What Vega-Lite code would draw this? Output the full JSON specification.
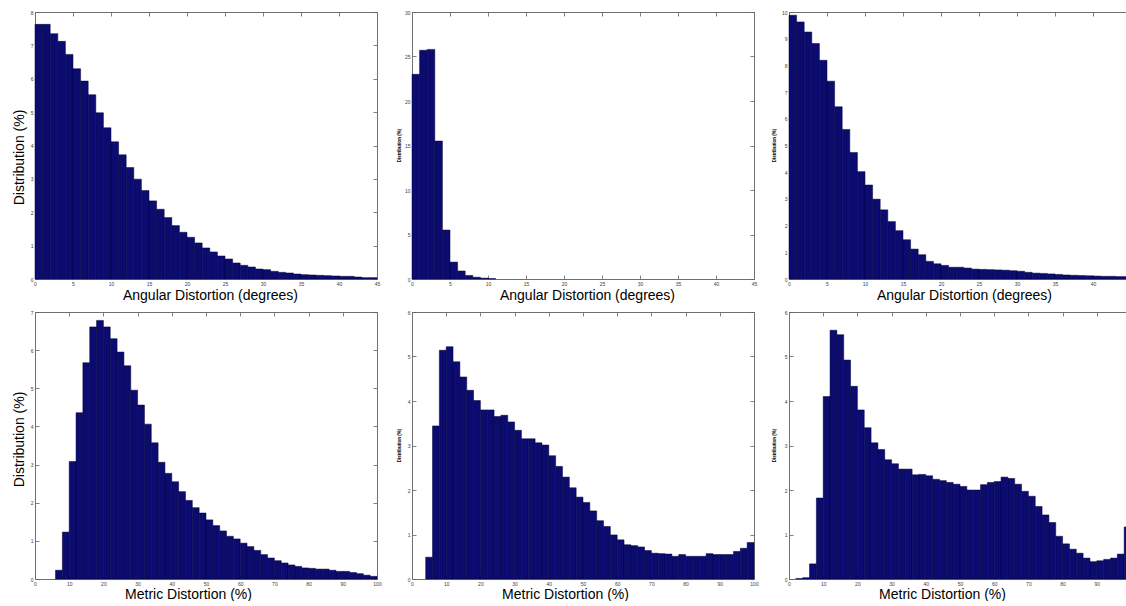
{
  "$schema": "https://vega.github.io/schema/vega-lite/v6.json",
  "padding": {"left": 12, "top": 10, "right": 0, "bottom": 0},
  "background": "white",
  "data": {"values": [
    {"p":"a","x0":0,"x1":1,"v":7.63},{"p":"a","x0":1,"x1":2,"v":7.63},{"p":"a","x0":2,"x1":3,"v":7.35},{"p":"a","x0":3,"x1":4,"v":7.12},{"p":"a","x0":4,"x1":5,"v":6.73},{"p":"a","x0":5,"x1":6,"v":6.30},{"p":"a","x0":6,"x1":7,"v":5.93},{"p":"a","x0":7,"x1":8,"v":5.52},{"p":"a","x0":8,"x1":9,"v":4.98},{"p":"a","x0":9,"x1":10,"v":4.53},{"p":"a","x0":10,"x1":11,"v":4.11},{"p":"a","x0":11,"x1":12,"v":3.72},{"p":"a","x0":12,"x1":13,"v":3.34},{"p":"a","x0":13,"x1":14,"v":2.99},{"p":"a","x0":14,"x1":15,"v":2.65},{"p":"a","x0":15,"x1":16,"v":2.34},{"p":"a","x0":16,"x1":17,"v":2.09},{"p":"a","x0":17,"x1":18,"v":1.84},{"p":"a","x0":18,"x1":19,"v":1.60},{"p":"a","x0":19,"x1":20,"v":1.40},{"p":"a","x0":20,"x1":21,"v":1.25},{"p":"a","x0":21,"x1":22,"v":1.08},{"p":"a","x0":22,"x1":23,"v":0.93},{"p":"a","x0":23,"x1":24,"v":0.81},{"p":"a","x0":24,"x1":25,"v":0.69},{"p":"a","x0":25,"x1":26,"v":0.60},{"p":"a","x0":26,"x1":27,"v":0.48},{"p":"a","x0":27,"x1":28,"v":0.41},{"p":"a","x0":28,"x1":29,"v":0.36},{"p":"a","x0":29,"x1":30,"v":0.30},{"p":"a","x0":30,"x1":31,"v":0.28},{"p":"a","x0":31,"x1":32,"v":0.23},{"p":"a","x0":32,"x1":33,"v":0.20},{"p":"a","x0":33,"x1":34,"v":0.18},{"p":"a","x0":34,"x1":35,"v":0.15},{"p":"a","x0":35,"x1":36,"v":0.13},{"p":"a","x0":36,"x1":37,"v":0.12},{"p":"a","x0":37,"x1":38,"v":0.11},{"p":"a","x0":38,"x1":39,"v":0.10},{"p":"a","x0":39,"x1":40,"v":0.09},{"p":"a","x0":40,"x1":41,"v":0.08},{"p":"a","x0":41,"x1":42,"v":0.08},{"p":"a","x0":42,"x1":43,"v":0.06},{"p":"a","x0":43,"x1":44,"v":0.04},{"p":"a","x0":44,"x1":45,"v":0.04},
    {"p":"b","x0":0,"x1":1,"v":23.0},{"p":"b","x0":1,"x1":2,"v":25.7},{"p":"b","x0":2,"x1":3,"v":25.8},{"p":"b","x0":3,"x1":4,"v":15.5},{"p":"b","x0":4,"x1":5,"v":5.5},{"p":"b","x0":5,"x1":6,"v":1.9},{"p":"b","x0":6,"x1":7,"v":0.9},{"p":"b","x0":7,"x1":8,"v":0.4},{"p":"b","x0":8,"x1":9,"v":0.2},{"p":"b","x0":9,"x1":10,"v":0.1},{"p":"b","x0":10,"x1":11,"v":0.05},
    {"p":"c","x0":0,"x1":1,"v":9.88},{"p":"c","x0":1,"x1":2,"v":9.63},{"p":"c","x0":2,"x1":3,"v":9.25},{"p":"c","x0":3,"x1":4,"v":8.82},{"p":"c","x0":4,"x1":5,"v":8.19},{"p":"c","x0":5,"x1":6,"v":7.41},{"p":"c","x0":6,"x1":7,"v":6.45},{"p":"c","x0":7,"x1":8,"v":5.60},{"p":"c","x0":8,"x1":9,"v":4.74},{"p":"c","x0":9,"x1":10,"v":4.02},{"p":"c","x0":10,"x1":11,"v":3.52},{"p":"c","x0":11,"x1":12,"v":2.99},{"p":"c","x0":12,"x1":13,"v":2.59},{"p":"c","x0":13,"x1":14,"v":2.15},{"p":"c","x0":14,"x1":15,"v":1.81},{"p":"c","x0":15,"x1":16,"v":1.47},{"p":"c","x0":16,"x1":17,"v":1.12},{"p":"c","x0":17,"x1":18,"v":0.91},{"p":"c","x0":18,"x1":19,"v":0.66},{"p":"c","x0":19,"x1":20,"v":0.57},{"p":"c","x0":20,"x1":21,"v":0.51},{"p":"c","x0":21,"x1":22,"v":0.44},{"p":"c","x0":22,"x1":23,"v":0.44},{"p":"c","x0":23,"x1":24,"v":0.41},{"p":"c","x0":24,"x1":25,"v":0.37},{"p":"c","x0":25,"x1":26,"v":0.36},{"p":"c","x0":26,"x1":27,"v":0.35},{"p":"c","x0":27,"x1":28,"v":0.34},{"p":"c","x0":28,"x1":29,"v":0.33},{"p":"c","x0":29,"x1":30,"v":0.31},{"p":"c","x0":30,"x1":31,"v":0.29},{"p":"c","x0":31,"x1":32,"v":0.25},{"p":"c","x0":32,"x1":33,"v":0.22},{"p":"c","x0":33,"x1":34,"v":0.21},{"p":"c","x0":34,"x1":35,"v":0.19},{"p":"c","x0":35,"x1":36,"v":0.17},{"p":"c","x0":36,"x1":37,"v":0.15},{"p":"c","x0":37,"x1":38,"v":0.14},{"p":"c","x0":38,"x1":39,"v":0.13},{"p":"c","x0":39,"x1":40,"v":0.12},{"p":"c","x0":40,"x1":41,"v":0.11},{"p":"c","x0":41,"x1":42,"v":0.10},{"p":"c","x0":42,"x1":43,"v":0.10},{"p":"c","x0":43,"x1":44,"v":0.09},{"p":"c","x0":44,"x1":45,"v":0.09},
    {"p":"d","x0":6,"x1":8,"v":0.23},{"p":"d","x0":8,"x1":10,"v":1.23},{"p":"d","x0":10,"x1":12,"v":3.08},{"p":"d","x0":12,"x1":14,"v":4.36},{"p":"d","x0":14,"x1":16,"v":5.67},{"p":"d","x0":16,"x1":18,"v":6.61},{"p":"d","x0":18,"x1":20,"v":6.78},{"p":"d","x0":20,"x1":22,"v":6.61},{"p":"d","x0":22,"x1":24,"v":6.30},{"p":"d","x0":24,"x1":26,"v":5.95},{"p":"d","x0":26,"x1":28,"v":5.59},{"p":"d","x0":28,"x1":30,"v":4.95},{"p":"d","x0":30,"x1":32,"v":4.56},{"p":"d","x0":32,"x1":34,"v":4.06},{"p":"d","x0":34,"x1":36,"v":3.57},{"p":"d","x0":36,"x1":38,"v":3.06},{"p":"d","x0":38,"x1":40,"v":2.77},{"p":"d","x0":40,"x1":42,"v":2.55},{"p":"d","x0":42,"x1":44,"v":2.29},{"p":"d","x0":44,"x1":46,"v":2.06},{"p":"d","x0":46,"x1":48,"v":1.87},{"p":"d","x0":48,"x1":50,"v":1.73},{"p":"d","x0":50,"x1":52,"v":1.55},{"p":"d","x0":52,"x1":54,"v":1.40},{"p":"d","x0":54,"x1":56,"v":1.26},{"p":"d","x0":56,"x1":58,"v":1.12},{"p":"d","x0":58,"x1":60,"v":1.05},{"p":"d","x0":60,"x1":62,"v":0.94},{"p":"d","x0":62,"x1":64,"v":0.85},{"p":"d","x0":64,"x1":66,"v":0.75},{"p":"d","x0":66,"x1":68,"v":0.64},{"p":"d","x0":68,"x1":70,"v":0.55},{"p":"d","x0":70,"x1":72,"v":0.48},{"p":"d","x0":72,"x1":74,"v":0.42},{"p":"d","x0":74,"x1":76,"v":0.37},{"p":"d","x0":76,"x1":78,"v":0.33},{"p":"d","x0":78,"x1":80,"v":0.29},{"p":"d","x0":80,"x1":82,"v":0.28},{"p":"d","x0":82,"x1":84,"v":0.26},{"p":"d","x0":84,"x1":86,"v":0.26},{"p":"d","x0":86,"x1":88,"v":0.23},{"p":"d","x0":88,"x1":90,"v":0.20},{"p":"d","x0":90,"x1":92,"v":0.20},{"p":"d","x0":92,"x1":94,"v":0.17},{"p":"d","x0":94,"x1":96,"v":0.14},{"p":"d","x0":96,"x1":98,"v":0.10},{"p":"d","x0":98,"x1":100,"v":0.07},
    {"p":"e","x0":4,"x1":6,"v":0.49},{"p":"e","x0":6,"x1":8,"v":3.44},{"p":"e","x0":8,"x1":10,"v":5.14},{"p":"e","x0":10,"x1":12,"v":5.22},{"p":"e","x0":12,"x1":14,"v":4.88},{"p":"e","x0":14,"x1":16,"v":4.54},{"p":"e","x0":16,"x1":18,"v":4.24},{"p":"e","x0":18,"x1":20,"v":4.01},{"p":"e","x0":20,"x1":22,"v":3.80},{"p":"e","x0":22,"x1":24,"v":3.80},{"p":"e","x0":24,"x1":26,"v":3.65},{"p":"e","x0":26,"x1":28,"v":3.68},{"p":"e","x0":28,"x1":30,"v":3.53},{"p":"e","x0":30,"x1":32,"v":3.34},{"p":"e","x0":32,"x1":34,"v":3.15},{"p":"e","x0":34,"x1":36,"v":3.15},{"p":"e","x0":36,"x1":38,"v":3.06},{"p":"e","x0":38,"x1":40,"v":3.01},{"p":"e","x0":40,"x1":42,"v":2.77},{"p":"e","x0":42,"x1":44,"v":2.53},{"p":"e","x0":44,"x1":46,"v":2.29},{"p":"e","x0":46,"x1":48,"v":2.05},{"p":"e","x0":48,"x1":50,"v":1.84},{"p":"e","x0":50,"x1":52,"v":1.72},{"p":"e","x0":52,"x1":54,"v":1.53},{"p":"e","x0":54,"x1":56,"v":1.31},{"p":"e","x0":56,"x1":58,"v":1.18},{"p":"e","x0":58,"x1":60,"v":0.99},{"p":"e","x0":60,"x1":62,"v":0.88},{"p":"e","x0":62,"x1":64,"v":0.77},{"p":"e","x0":64,"x1":66,"v":0.75},{"p":"e","x0":66,"x1":68,"v":0.72},{"p":"e","x0":68,"x1":70,"v":0.64},{"p":"e","x0":70,"x1":72,"v":0.58},{"p":"e","x0":72,"x1":74,"v":0.57},{"p":"e","x0":74,"x1":76,"v":0.56},{"p":"e","x0":76,"x1":78,"v":0.51},{"p":"e","x0":78,"x1":80,"v":0.55},{"p":"e","x0":80,"x1":82,"v":0.51},{"p":"e","x0":82,"x1":84,"v":0.51},{"p":"e","x0":84,"x1":86,"v":0.51},{"p":"e","x0":86,"x1":88,"v":0.57},{"p":"e","x0":88,"x1":90,"v":0.55},{"p":"e","x0":90,"x1":92,"v":0.55},{"p":"e","x0":92,"x1":94,"v":0.55},{"p":"e","x0":94,"x1":96,"v":0.62},{"p":"e","x0":96,"x1":98,"v":0.69},{"p":"e","x0":98,"x1":100,"v":0.82},
    {"p":"f","x0":2,"x1":4,"v":0.01},{"p":"f","x0":4,"x1":6,"v":0.03},{"p":"f","x0":6,"x1":8,"v":0.34},{"p":"f","x0":8,"x1":10,"v":1.82},{"p":"f","x0":10,"x1":12,"v":4.10},{"p":"f","x0":12,"x1":14,"v":5.59},{"p":"f","x0":14,"x1":16,"v":5.49},{"p":"f","x0":16,"x1":18,"v":4.92},{"p":"f","x0":18,"x1":20,"v":4.33},{"p":"f","x0":20,"x1":22,"v":3.80},{"p":"f","x0":22,"x1":24,"v":3.40},{"p":"f","x0":24,"x1":26,"v":3.06},{"p":"f","x0":26,"x1":28,"v":2.91},{"p":"f","x0":28,"x1":30,"v":2.68},{"p":"f","x0":30,"x1":32,"v":2.59},{"p":"f","x0":32,"x1":34,"v":2.47},{"p":"f","x0":34,"x1":36,"v":2.47},{"p":"f","x0":36,"x1":38,"v":2.34},{"p":"f","x0":38,"x1":40,"v":2.35},{"p":"f","x0":40,"x1":42,"v":2.32},{"p":"f","x0":42,"x1":44,"v":2.24},{"p":"f","x0":44,"x1":46,"v":2.21},{"p":"f","x0":46,"x1":48,"v":2.17},{"p":"f","x0":48,"x1":50,"v":2.13},{"p":"f","x0":50,"x1":52,"v":2.08},{"p":"f","x0":52,"x1":54,"v":2.00},{"p":"f","x0":54,"x1":56,"v":2.00},{"p":"f","x0":56,"x1":58,"v":2.12},{"p":"f","x0":58,"x1":60,"v":2.17},{"p":"f","x0":60,"x1":62,"v":2.19},{"p":"f","x0":62,"x1":64,"v":2.29},{"p":"f","x0":64,"x1":66,"v":2.26},{"p":"f","x0":66,"x1":68,"v":2.13},{"p":"f","x0":68,"x1":70,"v":1.97},{"p":"f","x0":70,"x1":72,"v":1.86},{"p":"f","x0":72,"x1":74,"v":1.63},{"p":"f","x0":74,"x1":76,"v":1.44},{"p":"f","x0":76,"x1":78,"v":1.27},{"p":"f","x0":78,"x1":80,"v":0.96},{"p":"f","x0":80,"x1":82,"v":0.79},{"p":"f","x0":82,"x1":84,"v":0.67},{"p":"f","x0":84,"x1":86,"v":0.58},{"p":"f","x0":86,"x1":88,"v":0.47},{"p":"f","x0":88,"x1":90,"v":0.39},{"p":"f","x0":90,"x1":92,"v":0.41},{"p":"f","x0":92,"x1":94,"v":0.44},{"p":"f","x0":94,"x1":96,"v":0.47},{"p":"f","x0":96,"x1":98,"v":0.56},{"p":"f","x0":98,"x1":100,"v":1.17}
  ]},
  "columns": 3,
  "spacing": {"row": 33, "column": 35},
  "bounds": "flush",
  "concat": [
    {
      "width": 342, "height": 267,
      "transform": [{"filter": "datum.p == 'a'"}],
      "layer": [
        {"mark": {"type": "bar", "fill": "#0b0b70", "stroke": "#000038", "strokeWidth": 0.5},
         "encoding": {
           "x": {"field": "x0", "type": "quantitative", "scale": {"domain": [0, 45], "nice": false},
                 "axis": {"orient": "bottom", "values": [0,5,10,15,20,25,30,35,40,45], "title": "Angular Distortion (degrees)", "titleX": 175, "titleY": 20}},
           "x2": {"field": "x1"},
           "y": {"field": "v", "type": "quantitative", "scale": {"domain": [0, 8], "nice": false},
                 "axis": {"orient": "left", "values": [0,1,2,3,4,5,6,7,8], "title": "Distribution (%)", "titleFontSize": 14, "titleX": -16, "titleY": 145, "titleBaseline": "middle"}},
           "y2": {"datum": 0}
         }},
        {"mark": {"type": "bar", "opacity": 0},
         "encoding": {
           "x": {"field": "x0", "type": "quantitative", "scale": {"domain": [0, 45], "nice": false},
                 "axis": {"orient": "top", "values": [0,5,10,15,20,25,30,35,40,45], "labels": false, "title": null}},
           "x2": {"field": "x1"},
           "y": {"field": "v", "type": "quantitative", "scale": {"domain": [0, 8], "nice": false},
                 "axis": {"orient": "right", "values": [0,1,2,3,4,5,6,7,8], "labels": false, "title": null}},
           "y2": {"datum": 0}
         }}
      ],
      "resolve": {"axis": {"x": "independent", "y": "independent"}}
    },
    {
      "width": 342, "height": 267,
      "transform": [{"filter": "datum.p == 'b'"}],
      "layer": [
        {"mark": {"type": "bar", "fill": "#0b0b70", "stroke": "#000038", "strokeWidth": 0.5},
         "encoding": {
           "x": {"field": "x0", "type": "quantitative", "scale": {"domain": [0, 45], "nice": false},
                 "axis": {"orient": "bottom", "values": [0,5,10,15,20,25,30,35,40,45], "title": "Angular Distortion (degrees)", "titleX": 175, "titleY": 20}},
           "x2": {"field": "x1"},
           "y": {"field": "v", "type": "quantitative", "scale": {"domain": [0, 30], "nice": false},
                 "axis": {"orient": "left", "values": [0,5,10,15,20,25,30], "title": "Distribution (%)", "titleFontSize": 4.5, "titleFontWeight": "bold", "titleX": -13, "titleY": 133, "titleBaseline": "middle"}},
           "y2": {"datum": 0}
         }},
        {"mark": {"type": "bar", "opacity": 0},
         "encoding": {
           "x": {"field": "x0", "type": "quantitative", "scale": {"domain": [0, 45], "nice": false},
                 "axis": {"orient": "top", "values": [0,5,10,15,20,25,30,35,40,45], "labels": false, "title": null}},
           "x2": {"field": "x1"},
           "y": {"field": "v", "type": "quantitative", "scale": {"domain": [0, 30], "nice": false},
                 "axis": {"orient": "right", "values": [0,5,10,15,20,25,30], "labels": false, "title": null}},
           "y2": {"datum": 0}
         }}
      ],
      "resolve": {"axis": {"x": "independent", "y": "independent"}}
    },
    {
      "width": 342, "height": 267,
      "transform": [{"filter": "datum.p == 'c'"}],
      "layer": [
        {"mark": {"type": "bar", "fill": "#0b0b70", "stroke": "#000038", "strokeWidth": 0.5},
         "encoding": {
           "x": {"field": "x0", "type": "quantitative", "scale": {"domain": [0, 45], "nice": false},
                 "axis": {"orient": "bottom", "values": [0,5,10,15,20,25,30,35,40,45], "title": "Angular Distortion (degrees)", "titleX": 175, "titleY": 20}},
           "x2": {"field": "x1"},
           "y": {"field": "v", "type": "quantitative", "scale": {"domain": [0, 10], "nice": false},
                 "axis": {"orient": "left", "values": [0,1,2,3,4,5,6,7,8,9,10], "title": "Distribution (%)", "titleFontSize": 4.5, "titleFontWeight": "bold", "titleX": -15, "titleY": 133, "titleBaseline": "middle"}},
           "y2": {"datum": 0}
         }},
        {"mark": {"type": "bar", "opacity": 0},
         "encoding": {
           "x": {"field": "x0", "type": "quantitative", "scale": {"domain": [0, 45], "nice": false},
                 "axis": {"orient": "top", "values": [0,5,10,15,20,25,30,35,40,45], "labels": false, "title": null}},
           "x2": {"field": "x1"},
           "y": {"field": "v", "type": "quantitative", "scale": {"domain": [0, 10], "nice": false},
                 "axis": {"orient": "right", "values": [0,1,2,3,4,5,6,7,8,9,10], "labels": false, "title": null}},
           "y2": {"datum": 0}
         }}
      ],
      "resolve": {"axis": {"x": "independent", "y": "independent"}}
    },
    {
      "width": 342, "height": 267,
      "transform": [{"filter": "datum.p == 'd'"}],
      "layer": [
        {"mark": {"type": "bar", "fill": "#0b0b70", "stroke": "#000038", "strokeWidth": 0.5},
         "encoding": {
           "x": {"field": "x0", "type": "quantitative", "scale": {"domain": [0, 100], "nice": false},
                 "axis": {"orient": "bottom", "values": [0,10,20,30,40,50,60,70,80,90,100], "title": "Metric Distortion (%)", "titleX": 153, "titleY": 19}},
           "x2": {"field": "x1"},
           "y": {"field": "v", "type": "quantitative", "scale": {"domain": [0, 7], "nice": false},
                 "axis": {"orient": "left", "values": [0,1,2,3,4,5,6,7], "title": "Distribution (%)", "titleFontSize": 14, "titleX": -16, "titleY": 127, "titleBaseline": "middle"}},
           "y2": {"datum": 0}
         }},
        {"mark": {"type": "bar", "opacity": 0},
         "encoding": {
           "x": {"field": "x0", "type": "quantitative", "scale": {"domain": [0, 100], "nice": false},
                 "axis": {"orient": "top", "values": [0,10,20,30,40,50,60,70,80,90,100], "labels": false, "title": null}},
           "x2": {"field": "x1"},
           "y": {"field": "v", "type": "quantitative", "scale": {"domain": [0, 7], "nice": false},
                 "axis": {"orient": "right", "values": [0,1,2,3,4,5,6,7], "labels": false, "title": null}},
           "y2": {"datum": 0}
         }}
      ],
      "resolve": {"axis": {"x": "independent", "y": "independent"}}
    },
    {
      "width": 342, "height": 267,
      "transform": [{"filter": "datum.p == 'e'"}],
      "layer": [
        {"mark": {"type": "bar", "fill": "#0b0b70", "stroke": "#000038", "strokeWidth": 0.5},
         "encoding": {
           "x": {"field": "x0", "type": "quantitative", "scale": {"domain": [0, 100], "nice": false},
                 "axis": {"orient": "bottom", "values": [0,10,20,30,40,50,60,70,80,90,100], "title": "Metric Distortion (%)", "titleX": 153, "titleY": 19}},
           "x2": {"field": "x1"},
           "y": {"field": "v", "type": "quantitative", "scale": {"domain": [0, 6], "nice": false},
                 "axis": {"orient": "left", "values": [0,1,2,3,4,5,6], "title": "Distribution (%)", "titleFontSize": 4.5, "titleFontWeight": "bold", "titleX": -13, "titleY": 133, "titleBaseline": "middle"}},
           "y2": {"datum": 0}
         }},
        {"mark": {"type": "bar", "opacity": 0},
         "encoding": {
           "x": {"field": "x0", "type": "quantitative", "scale": {"domain": [0, 100], "nice": false},
                 "axis": {"orient": "top", "values": [0,10,20,30,40,50,60,70,80,90,100], "labels": false, "title": null}},
           "x2": {"field": "x1"},
           "y": {"field": "v", "type": "quantitative", "scale": {"domain": [0, 6], "nice": false},
                 "axis": {"orient": "right", "values": [0,1,2,3,4,5,6], "labels": false, "title": null}},
           "y2": {"datum": 0}
         }}
      ],
      "resolve": {"axis": {"x": "independent", "y": "independent"}}
    },
    {
      "width": 342, "height": 267,
      "transform": [{"filter": "datum.p == 'f'"}],
      "layer": [
        {"mark": {"type": "bar", "fill": "#0b0b70", "stroke": "#000038", "strokeWidth": 0.5},
         "encoding": {
           "x": {"field": "x0", "type": "quantitative", "scale": {"domain": [0, 100], "nice": false},
                 "axis": {"orient": "bottom", "values": [0,10,20,30,40,50,60,70,80,90,100], "title": "Metric Distortion (%)", "titleX": 153, "titleY": 19}},
           "x2": {"field": "x1"},
           "y": {"field": "v", "type": "quantitative", "scale": {"domain": [0, 6], "nice": false},
                 "axis": {"orient": "left", "values": [0,1,2,3,4,5,6], "title": "Distribution (%)", "titleFontSize": 4.5, "titleFontWeight": "bold", "titleX": -15, "titleY": 133, "titleBaseline": "middle"}},
           "y2": {"datum": 0}
         }},
        {"mark": {"type": "bar", "opacity": 0},
         "encoding": {
           "x": {"field": "x0", "type": "quantitative", "scale": {"domain": [0, 100], "nice": false},
                 "axis": {"orient": "top", "values": [0,10,20,30,40,50,60,70,80,90,100], "labels": false, "title": null}},
           "x2": {"field": "x1"},
           "y": {"field": "v", "type": "quantitative", "scale": {"domain": [0, 6], "nice": false},
                 "axis": {"orient": "right", "values": [0,1,2,3,4,5,6], "labels": false, "title": null}},
           "y2": {"datum": 0}
         }}
      ],
      "resolve": {"axis": {"x": "independent", "y": "independent"}}
    }
  ],
  "config": {
    "view": {"stroke": null},
    "font": "Liberation Sans",
    "axis": {
      "grid": false,
      "domainColor": "#707070",
      "domainWidth": 1,
      "tickColor": "#606060",
      "tickSize": -4,
      "tickWidth": 0.8,
      "labelFontSize": 5,
      "labelColor": "#404040",
      "labelPadding": 6,
      "labelFlush": false,
      "labelOverlap": false,
      "titleFont": "Liberation Sans",
      "titleFontSize": 14,
      "titleFontWeight": "normal",
      "titleColor": "#000000",
      "titleAnchor": null,
      "titleAlign": "center"
    },
    "axisBottom": {"titleBaseline": "alphabetic"},
    "axisLeft": {"titleAngle": 270}
  }
}
